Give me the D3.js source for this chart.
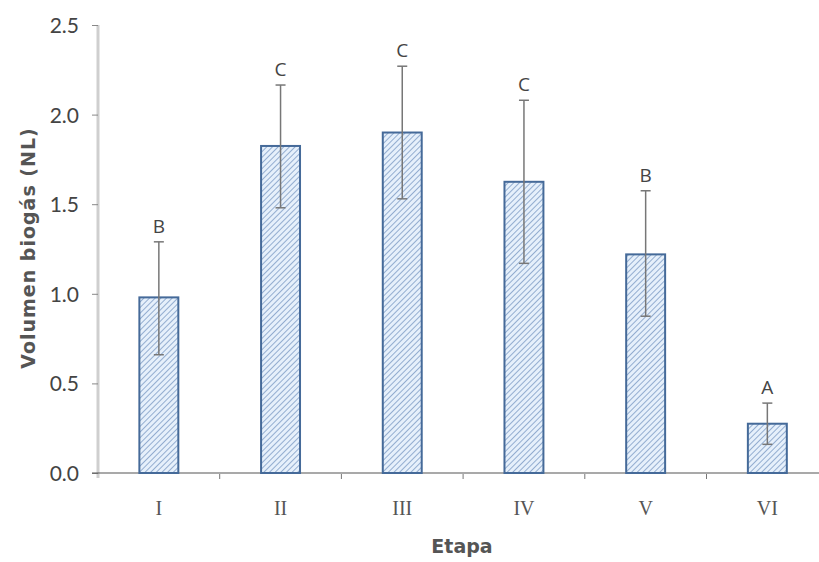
<!DOCTYPE html>
<html><head><meta charset="utf-8">
<script src="https://cdn.jsdelivr.net/npm/d3@7"></script>
<style>body{margin:0;background:#fff}</style>
</head><body><svg id="c" width="819" height="562"></svg>
<script>
const categories = ["I","II","III","IV","V","VI"];
const values = [0.98, 1.825, 1.90, 1.625, 1.22, 0.275];
const errUpper = [1.29, 2.165, 2.27, 2.08, 1.575, 0.39];
const errLower = [0.66, 1.48, 1.53, 1.17, 0.875, 0.16];
const letters = ["B","C","C","C","B","A"];
const yTicks = [0, 0.5, 1.0, 1.5, 2.0, 2.5];

const svg = d3.select("#c");
const x0 = 98, zeroY = 473;
const x = d3.scaleBand().domain(categories).range([x0, x0 + 6*121.7]).paddingInner(0.68).paddingOuter(0.34);
const y = d3.scaleLinear().domain([0, 2.5]).range([zeroY, 25]);

const defs = svg.append("defs");
const pat = defs.append("pattern").attr("id","hatch").attr("patternUnits","userSpaceOnUse")
  .attr("width",4).attr("height",4).attr("patternTransform","rotate(45)");
pat.append("rect").attr("width",4).attr("height",4).attr("fill","#e6f0fb");
pat.append("line").attr("x1",0).attr("y1",0).attr("x2",0).attr("y2",4)
  .attr("stroke","#7e9cc6").attr("stroke-width",1.6);

// y axis
const ya = svg.append("g").attr("transform",`translate(${x0},0)`)
  .call(d3.axisLeft(y).tickValues(yTicks).tickFormat(d3.format(".1f")).tickSize(6).tickPadding(13));
ya.select(".domain").attr("stroke","#cfcfcf").attr("stroke-width",3).attr("d",`M0,${zeroY+5}V25`);
ya.selectAll(".tick line").attr("stroke","#888");
ya.selectAll(".tick text").attr("fill","#444").attr("dy","0.36em")
  .style("font-family","Lato, 'Open Sans', sans-serif").style("font-size","21px");

// x axis
const xa = svg.append("g").attr("transform",`translate(0,${zeroY})`)
  .call(d3.axisBottom(x).tickSize(0).tickPadding(28));
xa.select(".domain").attr("stroke","#555").attr("stroke-width",1.2).attr("d",`M${x0-6},0H819`);
xa.selectAll(".tick text").attr("fill","#555").style("font-family","'Liberation Serif', serif").style("font-size","20px");
const step = x.step();
svg.append("g").selectAll("line").data(d3.range(1,6)).join("line")
  .attr("x1",d=>x0+d*step).attr("x2",d=>x0+d*step).attr("y1",zeroY+1).attr("y2",zeroY+6)
  .attr("stroke","#777").attr("stroke-width",1);

// bars
svg.append("g").selectAll("rect").data(categories).join("rect")
  .attr("x",d=>x(d)).attr("width",x.bandwidth())
  .attr("y",(d,i)=>y(values[i])).attr("height",(d,i)=>zeroY-y(values[i]))
  .attr("fill","url(#hatch)").attr("stroke","#456a99").attr("stroke-width",2);

// error bars
const eb = svg.append("g").attr("stroke","#777").attr("stroke-width",1.5);
categories.forEach((c,i)=>{
  const cx = x(c)+x.bandwidth()/2;
  eb.append("line").attr("x1",cx).attr("x2",cx).attr("y1",y(errUpper[i])).attr("y2",y(errLower[i]));
  eb.append("line").attr("x1",cx-5).attr("x2",cx+5).attr("y1",y(errUpper[i])).attr("y2",y(errUpper[i]));
  eb.append("line").attr("x1",cx-5).attr("x2",cx+5).attr("y1",y(errLower[i])).attr("y2",y(errLower[i]));
});

// letters
svg.append("g").selectAll("text").data(categories).join("text")
  .attr("x",d=>x(d)+x.bandwidth()/2).attr("y",(d,i)=>y(errUpper[i])-9)
  .attr("text-anchor","middle").attr("fill","#444")
  .style("font-family","'Open Sans', sans-serif").style("font-size","19px")
  .text((d,i)=>letters[i]);

// axis titles
svg.append("text").attr("transform","translate(35,248) rotate(-90)").attr("text-anchor","middle")
  .attr("fill","#555").style("font-family","'DejaVu Sans', sans-serif").style("font-weight","bold")
  .style("font-size","19px").style("letter-spacing","1px")
  .text("Volumen biogás (NL)");
svg.append("text").attr("x",462).attr("y",553).attr("text-anchor","middle")
  .attr("fill","#555").style("font-family","'DejaVu Sans', sans-serif").style("font-weight","bold").style("font-size","19px")
  .text("Etapa");
</script></body></html>
